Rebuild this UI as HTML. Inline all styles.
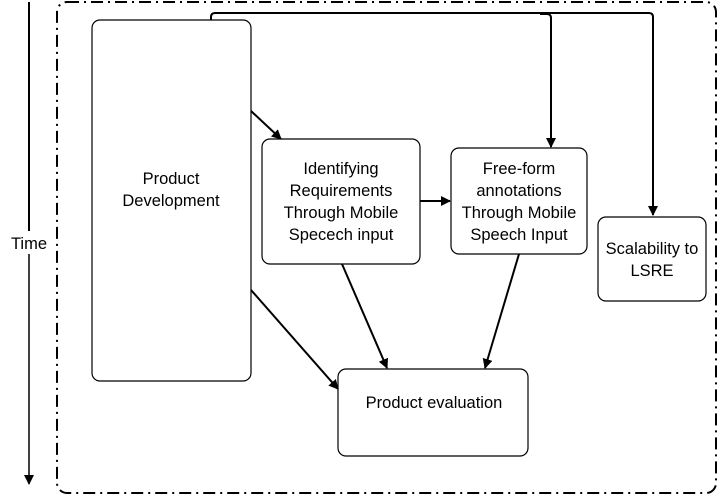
<!DOCTYPE html>
<html><head><style>
body{margin:0;background:#fff;}
svg text{font-family:"Liberation Sans",sans-serif;font-size:16.5px;fill:#000;}
</style></head><body>
<svg width="720" height="496" viewBox="0 0 720 496" xmlns="http://www.w3.org/2000/svg">
<defs><marker id="a" markerWidth="10" markerHeight="10" refX="9" refY="5" orient="auto" markerUnits="userSpaceOnUse"><path d="M0,0 L10,5 L0,10 z" fill="#000"/></marker></defs>
<rect x="57" y="2" width="659" height="491" rx="10" fill="none" stroke="#000" stroke-width="2" stroke-dasharray="12,5,2,5"/>
<line x1="29" y1="2" x2="29" y2="231" stroke="#000" stroke-width="2"/>
<line x1="29" y1="254" x2="29" y2="484" stroke="#000" stroke-width="1.5" marker-end="url(#a)"/>
<text x="29" y="249" text-anchor="middle">Time</text>
<g fill="none" stroke="#000" stroke-width="1.2">
<rect x="92" y="20" width="159" height="361" rx="8"/>
<rect x="262" y="139" width="158" height="125" rx="8"/>
<rect x="451" y="148" width="136" height="106" rx="8"/>
<rect x="598" y="217" width="108" height="84" rx="8"/>
<rect x="338" y="369" width="190" height="87" rx="8"/>
</g>
<g fill="none" stroke="#000" stroke-width="2">
<path d="M211,20 V17 Q211,13 215,13 H649 Q653,13 653,17 V215" marker-end="url(#a)"/>
<path d="M540,14 H547 Q551,14 551,18 V147" marker-end="url(#a)"/>
<line x1="251" y1="111" x2="281" y2="139" marker-end="url(#a)"/>
<line x1="420" y1="201" x2="450" y2="201" marker-end="url(#a)"/>
<line x1="251" y1="290" x2="338" y2="389" marker-end="url(#a)"/>
<line x1="342" y1="264" x2="387" y2="368" marker-end="url(#a)"/>
<line x1="519" y1="254" x2="485" y2="368" marker-end="url(#a)"/>
</g>
<text x="171" y="184" text-anchor="middle">Product</text>
<text x="171" y="206" text-anchor="middle">Development</text>
<text x="341" y="174" text-anchor="middle">Identifying</text>
<text x="341" y="196" text-anchor="middle">Requirements</text>
<text x="341" y="218" text-anchor="middle">Through Mobile</text>
<text x="341" y="240" text-anchor="middle">Specech input</text>
<text x="519" y="174" text-anchor="middle">Free-form</text>
<text x="519" y="196" text-anchor="middle">annotations</text>
<text x="519" y="218" text-anchor="middle">Through Mobile</text>
<text x="519" y="240" text-anchor="middle">Speech Input</text>
<text x="652" y="254" text-anchor="middle">Scalability to</text>
<text x="652" y="276" text-anchor="middle">LSRE</text>
<text x="434" y="408" text-anchor="middle">Product evaluation</text>
</svg>
</body></html>
